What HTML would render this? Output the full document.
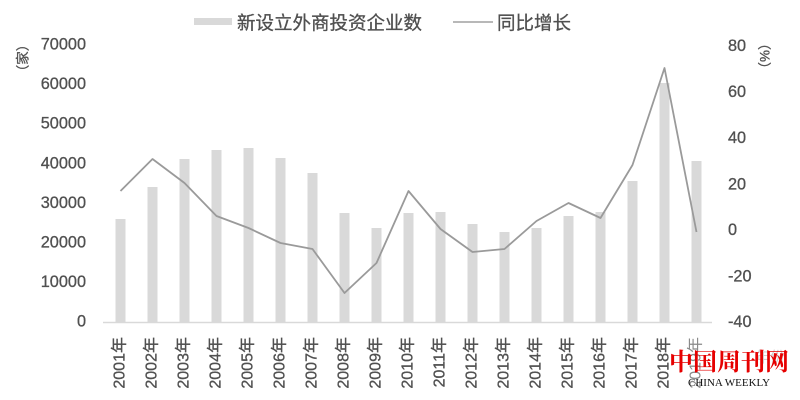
<!DOCTYPE html>
<html><head><meta charset="utf-8"><style>
html,body{margin:0;padding:0;background:#fff;}
svg{display:block;}
text{font-family:"Liberation Sans","Noto Sans CJK SC",sans-serif;fill:#505050;}
.t{stroke:#505050;stroke-width:0.3;}
</style></head><body>
<svg width="800" height="400" viewBox="0 0 800 400" xmlns="http://www.w3.org/2000/svg">
<rect width="800" height="400" fill="#fff"/>
<!-- legend -->
<rect x="194" y="18" width="38" height="7" fill="#d9d9d9"/>
<text class="t" x="237" y="29.5" font-size="18.5">新设立外商投资企业数</text>
<line x1="453" y1="22" x2="493" y2="22" stroke="#a0a0a0" stroke-width="1.6"/>
<text class="t" x="497" y="29.5" font-size="18.5">同比增长</text>
<!-- unit labels -->
<text class="t" transform="translate(23,58) rotate(-90)" text-anchor="middle" dy="0.35em" font-size="13.5">（家）</text>
<text class="t" transform="translate(765,56) rotate(-90)" text-anchor="middle" dy="0.35em" font-size="13.5">（%）</text>
<!-- left ticks -->
<g font-size="16.3" text-anchor="end" class="t">
<text x="86" y="49.5">70000</text>
<text x="86" y="89.1">60000</text>
<text x="86" y="128.7">50000</text>
<text x="86" y="168.3">40000</text>
<text x="86" y="207.9">30000</text>
<text x="86" y="247.5">20000</text>
<text x="86" y="287.1">10000</text>
<text x="86" y="326.5">0</text>
</g>
<!-- right ticks -->
<g font-size="16.3" text-anchor="start" class="t">
<text x="728" y="51">80</text>
<text x="728" y="97">60</text>
<text x="728" y="143">40</text>
<text x="728" y="189.5">20</text>
<text x="728" y="235">0</text>
<text x="728" y="281.5">-20</text>
<text x="728" y="327">-40</text>
</g>
<!-- bars -->
<g fill="#d9d9d9">
<rect x="115.5" y="219" width="10" height="103"/>
<rect x="147.5" y="187" width="10" height="135"/>
<rect x="179.5" y="159" width="10" height="163"/>
<rect x="211.5" y="150" width="10" height="172"/>
<rect x="243.5" y="148" width="10" height="174"/>
<rect x="275.5" y="158" width="10" height="164"/>
<rect x="307.5" y="173" width="10" height="149"/>
<rect x="339.5" y="213" width="10" height="109"/>
<rect x="371.5" y="228" width="10" height="94"/>
<rect x="403.5" y="213" width="10" height="109"/>
<rect x="435.5" y="212" width="10" height="110"/>
<rect x="467.5" y="224" width="10" height="98"/>
<rect x="499.5" y="232" width="10" height="90"/>
<rect x="531.5" y="228" width="10" height="94"/>
<rect x="563.5" y="216" width="10" height="106"/>
<rect x="595.5" y="212" width="10" height="110"/>
<rect x="627.5" y="181" width="10" height="141"/>
<rect x="659.5" y="83" width="10" height="239"/>
<rect x="691.5" y="161" width="10" height="161"/>
</g>
<!-- axis -->
<line x1="103" y1="322.5" x2="712" y2="322.5" stroke="#d9d9d9" stroke-width="1.5"/>
<!-- line series -->
<polyline fill="none" stroke="#9a9a9a" stroke-width="1.8" stroke-linejoin="round"
points="120.5,191 152.5,159 184.5,183 216.5,216 248.5,228 280.5,243 312.5,249 344.5,293 376.5,263 408.5,191 440.5,229 472.5,252 504.5,249 536.5,221 568.5,203 600.5,218 632.5,165 664.5,68 696.5,232"/>
<!-- x labels -->
<g font-size="16" text-anchor="end" class="t">
<text transform="translate(119,337) rotate(-90)" dy="0.35em">2001年</text>
<text transform="translate(151,337) rotate(-90)" dy="0.35em">2002年</text>
<text transform="translate(183,337) rotate(-90)" dy="0.35em">2003年</text>
<text transform="translate(215,337) rotate(-90)" dy="0.35em">2004年</text>
<text transform="translate(247,337) rotate(-90)" dy="0.35em">2005年</text>
<text transform="translate(279,337) rotate(-90)" dy="0.35em">2006年</text>
<text transform="translate(311,337) rotate(-90)" dy="0.35em">2007年</text>
<text transform="translate(343,337) rotate(-90)" dy="0.35em">2008年</text>
<text transform="translate(375,337) rotate(-90)" dy="0.35em">2009年</text>
<text transform="translate(407,337) rotate(-90)" dy="0.35em">2010年</text>
<text transform="translate(439,337) rotate(-90)" dy="0.35em">2011年</text>
<text transform="translate(471,337) rotate(-90)" dy="0.35em">2012年</text>
<text transform="translate(503,337) rotate(-90)" dy="0.35em">2013年</text>
<text transform="translate(535,337) rotate(-90)" dy="0.35em">2014年</text>
<text transform="translate(567,337) rotate(-90)" dy="0.35em">2015年</text>
<text transform="translate(599,337) rotate(-90)" dy="0.35em">2016年</text>
<text transform="translate(631,337) rotate(-90)" dy="0.35em">2017年</text>
<text transform="translate(663,337) rotate(-90)" dy="0.35em">2018年</text>
<text transform="translate(695,337) rotate(-90)" dy="0.35em" style="fill:#8a8a8a;stroke:none">2019年</text>
</g>
<!-- faint background text -->
<text x="755" y="362" font-size="15" style="fill:#d0d0d0">年份</text>
<!-- watermark -->
<text x="669" y="370" font-size="24" font-weight="bold" style="font-family:'Noto Serif CJK SC','Liberation Serif',serif;fill:#e60000">中国周刊网</text>
<text x="688" y="386" font-size="11" style="font-family:'Liberation Serif',serif;fill:#111">CHINA WEEKLY</text>
</svg>
</body></html>
